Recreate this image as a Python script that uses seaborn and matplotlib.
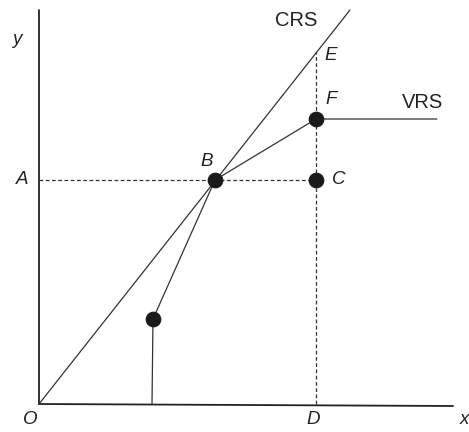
import matplotlib
matplotlib.use("Agg")
import matplotlib.pyplot as plt
import seaborn as sns
import pandas as pd

sns.set_theme(style="white")
plt.rcParams['font.family'] = ['Liberation Sans', 'DejaVu Sans']

# DMU observations (input x, output y)
dmu_x = [114, 176, 277, 277]
dmu_y = [85, 224, 285, 224]
dmu_names = ["", "B", "F", "C"]

# VRS frontier vertices
vrs_x = [113, 114, 176, 277, 398]
vrs_y = [0, 85, 224, 285, 285]

# CRS frontier through origin and B
crs_x = [0, 311]
crs_y = [0, 394]

# Reference points
A_y = 224
D_x = 277
E_y = 352

fig = plt.figure(figsize=(4.69, 4.32), dpi=100)
ax = fig.add_axes([0, 0, 1, 1])
ax.set_xlim(-39, 430)
ax.set_ylim(-28, 404)
ax.axis("off")

line_col = "#333333"
# axes
ax.plot([0, 0], [0, 394], color="#222222", lw=1.3)
ax.plot([0, 414], [0, -2], color="#222222", lw=1.3)

sns.lineplot(x=crs_x, y=crs_y, ax=ax, color=line_col, lw=0.9, sort=False)
sns.lineplot(x=vrs_x, y=vrs_y, ax=ax, color=line_col, lw=0.9, sort=False)

# dashed guides
ax.plot([0, D_x], [A_y, A_y], color=line_col, lw=0.9, ls=(0, (3, 2)))
ax.plot([D_x, D_x], [0, E_y], color=line_col, lw=0.9, ls=(0, (3, 2)))

df = pd.DataFrame({"x": dmu_x, "y": dmu_y})
sns.scatterplot(data=df, x="x", y="y", ax=ax, s=110, color="#1a1a1a",
                edgecolor="#1a1a1a", zorder=5)

fs = 13.5
kw = dict(fontsize=fs, color="#222222", style="italic", ha="center", va="center")
ax.text(-22, 364, "y", **kw)
ax.text(425, -16, "x", **kw)
ax.text(-9, -16, "O", **kw)
ax.text(D_x - 3, -16, "D", **kw)
ax.text(-17, A_y, "A", **kw)
ax.text(168, 242, "B", **kw)
ax.text(300, A_y, "C", **kw)
ax.text(292, 348, "E", **kw)
ax.text(292, 304, "F", **kw)
ax.text(257, 384, "CRS", fontsize=14.5, color="#222222", ha="center", va="center")
ax.text(384, 302, "VRS", fontsize=14.5, color="#222222", ha="center", va="center")

fig.savefig("out.png", dpi=100, facecolor="white")
